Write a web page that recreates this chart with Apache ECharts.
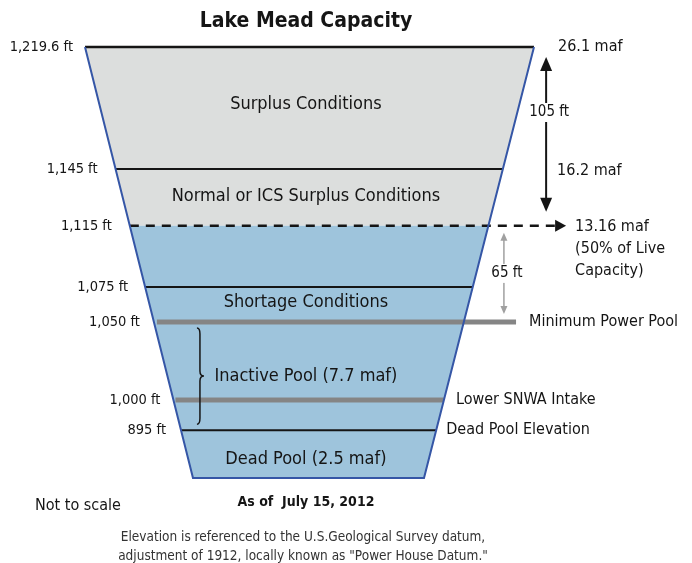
<!DOCTYPE html>
<html>
<head>
<meta charset="utf-8">
<script src="https://cdn.jsdelivr.net/npm/echarts@6/dist/echarts.min.js"></script>
<style>
  html, body { margin: 0; padding: 0; background: #fff; }
  #chart { width: 692px; height: 563px; }
</style>
</head>
<body>
<div id="chart"></div>
<script>
const FONT = '"Liberation Sans Narrow", "DejaVu Sans Condensed", sans-serif'

// elevation levels, top to bottom
const levelLabels = ["1,219.6 ft", "1,145 ft", "1,115 ft", "1,075 ft", "1,050 ft", "1,000 ft", "895 ft"]
// schematic height of each level (the drawing is not to scale): 0 = lake floor, 100 = full pool
const levelHeights = [100, 71.7, 58.5, 44.3, 36.2, 18.1, 11.1]
const levelNotes = ["26.1 maf", "", "13.16 maf\n(50% of Live\nCapacity)", "", "Minimum Power Pool", "Lower SNWA Intake", "Dead Pool Elevation"]

// named zones inside the lake
const zoneNames = ["Surplus Conditions", "Normal or ICS Surplus Conditions", "Shortage Conditions", "Inactive Pool (7.7 maf)", "Dead Pool (2.5 maf)"]
const zoneHeights = [86.8, 65.4, 40.8, 23.7, 4.4]

// water bands: empty part (above 1,115 ft) and filled part
const bandTops = [100, 58.5]
const bandBottoms = [58.5, 0]

// measured spans between levels (indexes into levelLabels)
const spanLabels = ["105 ft", "65 ft"]
const spanFrom = [0, 2]
const spanTo = [2, 4]
const spanNotes = ["16.2 maf", ""]
const spanNoteHeights = [71.2, null]

const chart = echarts.init(document.getElementById("chart"))

// lake outline: full pool spans the whole x range, the floor is narrower
const FLOOR_LEFT = 24.05
const FLOOR_RIGHT = 75.5
const leftEdge = (h) => FLOOR_LEFT * (1 - h / 100)
const rightEdge = (h) => FLOOR_RIGHT + (100 - FLOOR_RIGHT) * h / 100

const bandColors = ["#dcdedd", "#9ec4dc"]
const ink = "#151515"
const grey = "#858585"

// per-level line style
const levelStyle = [
  { color: ink, width: 2.5, start: 0, end: null, noteDx: 24 },
  { color: ink, width: 2, start: 0, end: null, noteDx: 0 },
  { color: ink, width: 2.5, start: 0, end: 104.7, dash: [9, 7], arrow: true, noteDx: 20 },
  { color: ink, width: 2, start: 0, end: null, noteDx: 0 },
  { color: grey, width: 5, start: 3, end: 96, noteDx: 13 },
  { color: grey, width: 5, start: 2, end: null, noteDx: 12 },
  { color: ink, width: 2, start: 0, end: null, noteDx: 10 },
]
const labelDx = [-12, -18, -18, -17, -14, -13, -15]
const spanX = [102.7, 93.3]
const spanColor = [ink, "#a0a0a0"]
const zoneX = 49.2

const textStyle = (text, x, y, size, extra) =>
  Object.assign({ text, x, y, font: `${size}px ${FONT}`, fill: ink }, extra || {})

const option = {
  animation: false,
  grid: { left: 85, right: 158, top: 47, bottom: 85 },
  xAxis: { type: "value", min: 0, max: 100, show: false },
  yAxis: { type: "value", min: 0, max: 100, show: false },
  graphic: [
    { type: "text", x: 306, y: 22, style: { text: "Lake Mead Capacity", font: `bold 21px ${FONT}`, fill: ink, align: "center", verticalAlign: "middle" } },
    { type: "text", x: 306, y: 502, style: { text: "As of  July 15, 2012", font: `bold 14px ${FONT}`, fill: ink, align: "center", verticalAlign: "middle" } },
    { type: "text", x: 35, y: 506, style: { text: "Not to scale", font: `16px ${FONT}`, fill: ink, align: "left", verticalAlign: "middle" } },
    { type: "text", x: 303, y: 547, style: { text: "Elevation is referenced to the U.S.Geological Survey datum,\nadjustment of 1912, locally known as \"Power House Datum.\"", font: `13.5px ${FONT}`, fill: "#333", align: "center", verticalAlign: "middle", lineHeight: 19 } },
  ],
  series: [
    {
      // water bands
      type: "custom",
      clip: false,
      data: bandTops.map((t, i) => [t, bandBottoms[i]]),
      renderItem: (params, api) => {
        const top = api.value(0)
        const bottom = api.value(1)
        const pts = [
          [leftEdge(top), top], [rightEdge(top), top],
          [rightEdge(bottom), bottom], [leftEdge(bottom), bottom],
        ].map((p) => api.coord(p))
        return { type: "polygon", shape: { points: pts }, style: { fill: bandColors[params.dataIndex] } }
      },
    },
    {
      // level lines with labels on both sides
      type: "custom",
      clip: false,
      z: 3,
      data: levelHeights.map((h, i) => [h, i]),
      renderItem: (params, api) => {
        const i = params.dataIndex
        const h = api.value(0)
        const s = levelStyle[i]
        const l = api.coord([leftEdge(h), h])
        const r = api.coord([s.end == null ? rightEdge(h) : s.end, h])
        const x0 = l[0] + s.start
        const children = [
          { type: "line", shape: { x1: x0, y1: l[1], x2: r[0], y2: r[1] }, style: { stroke: s.color, lineWidth: s.width, lineDash: s.dash || null } },
          { type: "text", style: textStyle(levelLabels[i], l[0] + labelDx[i], l[1], 14.5, { align: "right", verticalAlign: "middle" }) },
        ]
        let noteX = r[0] + s.noteDx
        if (s.arrow) {
          children.push({ type: "polygon", shape: { points: [[r[0], r[1] - 6], [r[0] + 11, r[1]], [r[0], r[1] + 6]] }, style: { fill: ink } })
          noteX = r[0] + 20
        }
        if (levelNotes[i]) {
          children.push({ type: "text", style: textStyle(levelNotes[i], noteX, l[1], 16, { align: "left", verticalAlign: i === 2 ? "top" : "middle", lineHeight: 22, y: i === 2 ? l[1] - 10 : l[1] }) })
        }
        return { type: "group", children }
      },
    },
    {
      // lake outline
      type: "custom",
      clip: false,
      z: 4,
      data: [[0, 100]],
      renderItem: (params, api) => {
        const pts = [
          [leftEdge(100), 100], [leftEdge(0), 0], [rightEdge(0), 0], [rightEdge(100), 100],
        ].map((p) => api.coord(p))
        return { type: "polyline", shape: { points: pts }, style: { stroke: "#3556a6", lineWidth: 2, fill: null } }
      },
    },
    {
      // zone names
      type: "custom",
      clip: false,
      z: 5,
      data: zoneHeights.map((h, i) => [zoneX, h, i]),
      renderItem: (params, api) => {
        const p = api.coord([api.value(0), api.value(1)])
        return { type: "text", style: textStyle(zoneNames[params.dataIndex], p[0], p[1], 18, { align: "center", verticalAlign: "middle" }) }
      },
    },
    {
      // measured spans (double arrows)
      type: "custom",
      clip: false,
      z: 5,
      data: spanLabels.map((s, i) => [spanX[i], i]),
      renderItem: (params, api) => {
        const i = params.dataIndex
        const col = spanColor[i]
        const inset = i === 0 ? [10, 14] : [7, 8]
        const head = i === 0 ? [6, 14] : [3.5, 8]
        const top = api.coord([spanX[i], levelHeights[spanFrom[i]]])
        const bot = api.coord([spanX[i], levelHeights[spanTo[i]]])
        const x = top[0]
        const y1 = top[1] + inset[0]
        const y2 = bot[1] - inset[1]
        const mid = (y1 + y2) / 2 - (i === 0 ? 22 : 0)
        const children = [
          { type: "line", shape: { x1: x, y1: y1 + head[1] - 1, x2: x, y2: y2 - head[1] + 1 }, style: { stroke: col, lineWidth: i === 0 ? 2 : 1.5 } },
          { type: "polygon", shape: { points: [[x, y1], [x - head[0], y1 + head[1]], [x + head[0], y1 + head[1]]] }, style: { fill: col } },
          { type: "polygon", shape: { points: [[x, y2], [x - head[0], y2 - head[1]], [x + head[0], y2 - head[1]]] }, style: { fill: col } },
          { type: "text", style: textStyle(spanLabels[i], x + 3, mid, 15, { align: "center", verticalAlign: "middle", backgroundColor: "#fff", padding: [2, 0] }) },
        ]
        if (spanNotes[i]) {
          const n = api.coord([spanX[i], spanNoteHeights[i]])
          children.push({ type: "text", style: textStyle(spanNotes[i], x + 11, n[1], 16, { align: "left", verticalAlign: "middle" }) })
        }
        return { type: "group", children }
      },
    },
    {
      // brace grouping the inactive pool between 1,050 ft and 895 ft
      type: "custom",
      clip: false,
      z: 5,
      data: [[25.6, 4, 6]],
      renderItem: (params, api) => {
        const bx = api.value(0)
        const t = api.coord([bx, levelHeights[api.value(1)]])
        const b = api.coord([bx, levelHeights[api.value(2)]])
        const x = t[0]
        const y1 = t[1] + 6
        const y2 = b[1] - 6
        const ym = (y1 + y2) / 2
        const d = `M${x - 3},${y1} Q${x},${y1} ${x},${y1 + 6} L${x},${ym - 5} Q${x},${ym} ${x + 4},${ym} Q${x},${ym} ${x},${ym + 5} L${x},${y2 - 6} Q${x},${y2} ${x - 3},${y2}`
        return { type: "path", shape: { pathData: d }, style: { stroke: ink, lineWidth: 1.5, fill: null } }
      },
    },
  ],
}

chart.setOption(option)
</script>
</body>
</html>
